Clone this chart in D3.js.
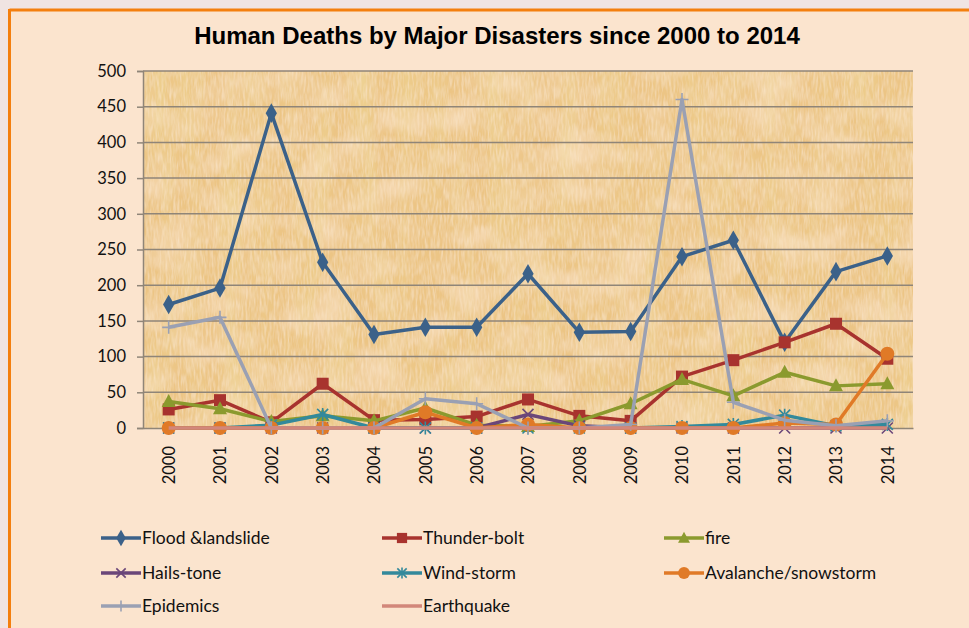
<!DOCTYPE html>
<html>
<head>
<meta charset="utf-8">
<script src="https://cdn.jsdelivr.net/npm/d3@7"></script>
<style>
  html, body { margin: 0; padding: 0; background: #f0e4e2; }
  svg { display: block; }
</style>
</head>
<body>
<svg id="chart" width="969" height="628"></svg>
<script>
// Years on the category axis
const years = ["2000","2001","2002","2003","2004","2005","2006","2007","2008","2009","2010","2011","2012","2013","2014"];

// Deaths per year for each disaster type
const flood      = [173, 196, 441, 232, 131, 141, 141, 216, 134, 135, 240, 263, 120, 219, 241];
const thunder    = [26, 39, 8, 62, 11, 12, 16, 40, 17, 10, 72, 95, 120, 146, 97];
const fire       = [37, 27, 9, 17, 10, 28, 4, 2, 10, 34, 68, 45, 78, 59, 62];
const hailstone  = [0, 0, 0, 0, 0, 0, 0, 19, 3, 0, 0, 0, 0, 0, 0];
const windstorm  = [0, 0, 4, 19, 0, 0, 0, 0, 0, 0, 2, 5, 18, 3, 5];
const avalanche  = [0, 0, 0, 0, 0, 22, 0, 5, 0, 0, 0, 0, 7, 5, 104];
const epidemics  = [141, 155, 0, 0, 0, 41, 34, 0, 0, 5, 460, 36, 11, 3, 10];
const earthquake = [0, 0, 0, 0, 0, 0, 0, 0, 0, 0, 0, 0, 0, 0, 0];

const seriesNames = ["Flood &landslide", "Thunder-bolt", "fire", "Hails-tone", "Wind-storm", "Avalanche/snowstorm", "Epidemics", "Earthquake"];
const yTicks = [0, 50, 100, 150, 200, 250, 300, 350, 400, 450, 500];

const series = [
  { name: seriesNames[0], values: flood,      color: "#3b6189", marker: "diamond" },
  { name: seriesNames[1], values: thunder,    color: "#a8332e", marker: "square" },
  { name: seriesNames[2], values: fire,       color: "#8b9a2e", marker: "triangle" },
  { name: seriesNames[3], values: hailstone,  color: "#6a4679", marker: "x" },
  { name: seriesNames[4], values: windstorm,  color: "#33899b", marker: "star" },
  { name: seriesNames[5], values: avalanche,  color: "#e07a27", marker: "circle" },
  { name: seriesNames[6], values: epidemics,  color: "#9aa0b3", marker: "plus" },
  { name: seriesNames[7], values: earthquake, color: "#d2877a", marker: "none" }
];

const svg = d3.select("#chart");
const W = 969, H = 628;
const plot = { left: 143, right: 913, top: 71, bottom: 428 };
const labelFont = "Lato, 'Open Sans', sans-serif";

// Outer chart area with orange frame
svg.append("rect").attr("x", 10).attr("y", 10).attr("width", W - 10).attr("height", H - 10)
  .attr("fill", "#fbe4ce");
svg.append("line").attr("x1", 9.5).attr("x2", W).attr("y1", 10).attr("y2", 10)
  .attr("stroke", "#f47f0e").attr("stroke-width", 3);
svg.append("line").attr("x1", 9.5).attr("x2", 9.5).attr("y1", 9).attr("y2", H)
  .attr("stroke", "#f47f0e").attr("stroke-width", 3);

// Papyrus-like texture for the plot background
const defs = svg.append("defs");
const f = defs.append("filter").attr("id", "paper")
  .attr("x", 0).attr("y", 0).attr("width", "100%").attr("height", "100%");
f.append("feTurbulence").attr("type", "fractalNoise").attr("baseFrequency", "0.045 0.006")
  .attr("numOctaves", 3).attr("seed", 7).attr("result", "streak");
f.append("feColorMatrix").attr("in", "streak").attr("type", "matrix")
  .attr("values", "0 0 0 0 0.86  0 0 0 0 0.68  0 0 0 0 0.30  1.1 0 0 0 -0.45")
  .attr("result", "streakC");
f.append("feTurbulence").attr("type", "fractalNoise").attr("baseFrequency", "0.02 0.03")
  .attr("numOctaves", 2).attr("seed", 11).attr("result", "blot");
f.append("feColorMatrix").attr("in", "blot").attr("type", "matrix")
  .attr("values", "0 0 0 0 0.97  0 0 0 0 0.78  0 0 0 0 0.58  1.3 0 0 0 -0.55")
  .attr("result", "blotC");
f.append("feTurbulence").attr("type", "fractalNoise").attr("baseFrequency", "0.5 0.08")
  .attr("numOctaves", 2).attr("seed", 3).attr("result", "fine");
f.append("feColorMatrix").attr("in", "fine").attr("type", "matrix")
  .attr("values", "0 0 0 0 0.96  0 0 0 0 0.80  0 0 0 0 0.60  1.2 0 0 0 -0.45")
  .attr("result", "fineC");
f.append("feMerge").selectAll("feMergeNode").data(["SourceGraphic", "blotC", "streakC", "fineC"])
  .enter().append("feMergeNode").attr("in", d => d);

svg.append("rect")
  .attr("x", plot.left).attr("y", plot.top)
  .attr("width", plot.right - plot.left).attr("height", plot.bottom - plot.top)
  .attr("fill", "#ecc585").attr("filter", "url(#paper)");

// Scales
const x = d3.scalePoint().domain(years).range([plot.left, plot.right]).padding(0.5);
const y = d3.scaleLinear().domain([0, 500]).range([plot.bottom, plot.top]);

// Gridlines
svg.append("g").selectAll("line").data(yTicks.filter(t => t > 0)).enter().append("line")
  .attr("x1", plot.left).attr("x2", plot.right)
  .attr("y1", d => y(d)).attr("y2", d => y(d))
  .attr("stroke", "#8f8578").attr("stroke-width", 1.5);

// Y axis
const yAxis = svg.append("g").attr("transform", `translate(${plot.left},0)`)
  .call(d3.axisLeft(y).tickValues(yTicks).tickSize(6).tickPadding(11));
yAxis.select(".domain").attr("stroke", "#8f8578").attr("stroke-width", 1.5);
yAxis.selectAll(".tick line").attr("stroke", "#8f8578").attr("stroke-width", 1.5);
yAxis.selectAll("text").attr("font-family", labelFont)
  .attr("font-size", 16.5).attr("fill", "#111");

// X axis
const xAxis = svg.append("g").attr("transform", `translate(0,${plot.bottom})`)
  .call(d3.axisBottom(x).tickSize(0).tickPadding(0));
xAxis.select(".domain").attr("stroke", "#8f8578").attr("stroke-width", 1.5);
xAxis.selectAll("text")
  .attr("font-family", labelFont).attr("font-size", 16.5).attr("fill", "#111")
  .attr("transform", "rotate(-90)")
  .attr("text-anchor", "end")
  .attr("x", -18).attr("y", 0).attr("dy", "0.35em");

// Marker drawing
function drawMarker(g, type, color, size) {
  const s = size || 1;
  switch (type) {
    case "diamond":
      g.append("path").attr("d", d3.symbol(d3.symbolDiamond, 110 * s * s)()).attr("fill", color);
      break;
    case "square":
      g.append("rect").attr("x", -6 * s).attr("y", -6 * s).attr("width", 12 * s).attr("height", 12 * s).attr("fill", color);
      break;
    case "triangle":
      g.append("path").attr("d", `M0,${-7.5 * s}L${7 * s},${5.5 * s}L${-7 * s},${5.5 * s}Z`).attr("fill", color);
      break;
    case "circle":
      g.append("circle").attr("r", 7 * s).attr("fill", color);
      break;
    case "x":
      g.append("path").attr("d", `M${-5.5 * s},${-5.5 * s}L${5.5 * s},${5.5 * s}M${5.5 * s},${-5.5 * s}L${-5.5 * s},${5.5 * s}`)
        .attr("stroke", color).attr("stroke-width", 1.6).attr("fill", "none");
      break;
    case "star":
      g.append("path").attr("d", `M${-5.5 * s},${-5.5 * s}L${5.5 * s},${5.5 * s}M${5.5 * s},${-5.5 * s}L${-5.5 * s},${5.5 * s}M0,${-6.5 * s}L0,${6.5 * s}`)
        .attr("stroke", color).attr("stroke-width", 1.6).attr("fill", "none");
      break;
    case "plus":
      g.append("path").attr("d", `M${-6.5 * s},0L${6.5 * s},0M0,${-6.5 * s}L0,${6.5 * s}`)
        .attr("stroke", color).attr("stroke-width", 1.6).attr("fill", "none");
      break;
  }
}

// Series lines and markers (first series drawn underneath)
const line = d3.line().x((d, i) => x(years[i])).y(d => y(d));
series.forEach(s => {
  const g = svg.append("g");
  g.append("path").datum(s.values).attr("d", line)
    .attr("fill", "none").attr("stroke", s.color).attr("stroke-width", 3.5)
    .attr("stroke-linejoin", "round");
  s.values.forEach((v, i) => {
    const m = g.append("g").attr("transform", `translate(${x(years[i])},${y(v)})`);
    drawMarker(m, s.marker, s.color);
  });
});

// Title
svg.append("text").attr("x", 497).attr("y", 44).attr("text-anchor", "middle")
  .attr("font-family", "'Liberation Sans', Arial, sans-serif").attr("font-weight", "bold")
  .attr("font-size", 24).attr("fill", "#000")
  .text("Human Deaths by Major Disasters since 2000 to 2014");

// Legend: three columns, three rows
const legendCols = [101, 382, 664];
const legendRows = [538, 573, 606];
series.forEach((s, i) => {
  const cx = legendCols[i % 3], cy = legendRows[Math.floor(i / 3)];
  const g = svg.append("g").attr("transform", `translate(${cx},${cy})`);
  g.append("line").attr("x1", 0).attr("x2", 40).attr("y1", 0).attr("y2", 0)
    .attr("stroke", s.color).attr("stroke-width", 3.5);
  const m = g.append("g").attr("transform", "translate(20,0)");
  drawMarker(m, s.marker, s.color, 0.85);
  g.append("text").attr("x", 41).attr("y", 0).attr("dy", "0.35em")
    .attr("font-family", labelFont).attr("font-size", 17.5).attr("fill", "#111")
    .text(s.name);
});
</script>
</body>
</html>
